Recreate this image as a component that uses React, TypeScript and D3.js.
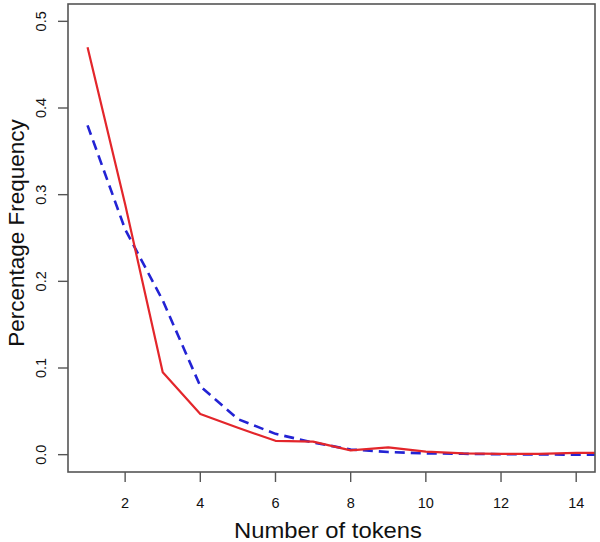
import React from "react";
import * as d3 from "d3";

const tokens = [1, 2, 3, 4, 5, 6, 7, 8, 9, 10, 11, 12, 13, 14, 15];
const observed = [0.47, 0.289, 0.095, 0.047, 0.031, 0.016, 0.015, 0.005, 0.0085, 0.0035, 0.0015, 0.001, 0.001, 0.002, 0.002];
const fitted = [0.38, 0.26, 0.178, 0.079, 0.041, 0.024, 0.014, 0.006, 0.003, 0.0015, 0.001, 0.0005, 0.0003, 0.0, 0.0];
const xTicks = [2, 4, 6, 8, 10, 12, 14];
const yTicks = [0.0, 0.1, 0.2, 0.3, 0.4, 0.5];

const W = 600;
const H = 542;
const L = 68;
const R = 595;
const T = 4;
const B = 472;

export default function App() {
  const x = d3.scaleLinear().domain([0.48, 14.5]).range([L, R]);
  const y = d3.scaleLinear().domain([-0.02, 0.52]).range([B, T]);
  const line = (vals: number[]) =>
    d3
      .line<number>()
      .x((_, i) => x(tokens[i]))
      .y((v) => y(v))(vals) || "";
  const font = "'Liberation Sans', Arial, Helvetica, sans-serif";
  const axisCol = "#555";
  return (
    <svg
      width={W}
      height={H}
      style={{ position: "absolute", left: 0, top: 0, background: "#fff" }}
      fontFamily={font}
    >
      <defs>
        <clipPath id="plotclip">
          <rect x={L} y={T} width={R - L} height={B - T} />
        </clipPath>
      </defs>
      <rect x={0} y={0} width={W} height={H} fill="#fff" />
      <g clipPath="url(#plotclip)">
        <path d={line(fitted)} fill="none" stroke="#2323d4" strokeWidth={2.6} strokeDasharray="10,6" />
        <path d={line(observed)} fill="none" stroke="#e3262b" strokeWidth={2.2} strokeLinejoin="round" />
      </g>
      <rect x={L} y={T} width={R - L} height={B - T} fill="none" stroke={axisCol} strokeWidth={1.6} />
      {yTicks.map((t) => (
        <g key={"y" + t}>
          <line x1={L - 10} x2={L} y1={y(t)} y2={y(t)} stroke={axisCol} strokeWidth={1.4} />
          <text
            transform={`translate(46,${y(t)}) rotate(-90)`}
            textAnchor="middle"
            fontSize={14.5}
            fill="#111"
          >
            {t.toFixed(1)}
          </text>
        </g>
      ))}
      {xTicks.map((t) => (
        <g key={"x" + t}>
          <line x1={x(t)} x2={x(t)} y1={B} y2={B + 10} stroke={axisCol} strokeWidth={1.4} />
          <text x={x(t)} y={508} textAnchor="middle" fontSize={14.5} fill="#111">
            {t}
          </text>
        </g>
      ))}
      <text x={328} y={538} textAnchor="middle" fontSize={22.5} fill="#111" textLength={188} lengthAdjust="spacingAndGlyphs">
        Number of tokens
      </text>
      <text transform={`translate(24,233) rotate(-90)`} textAnchor="middle" fontSize={22.5} fill="#111">
        Percentage Frequency
      </text>
    </svg>
  );
}
